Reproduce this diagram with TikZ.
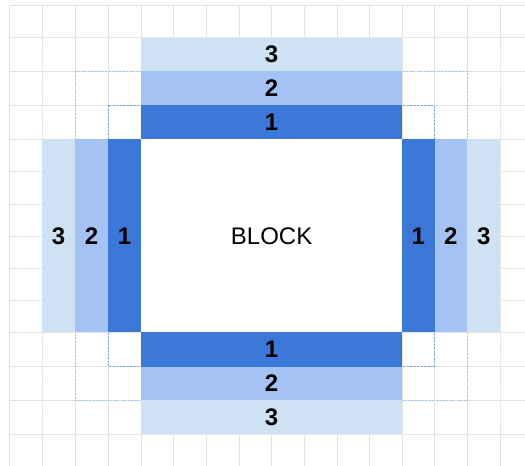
\documentclass[tikz,border=0pt]{standalone}
\usepackage{fontspec}
\setmainfont{Liberation Sans}
\definecolor{gridgray}{HTML}{E2E2E2}
\definecolor{blueA}{HTML}{3C78D8}
\definecolor{blueB}{HTML}{A4C2F4}
\definecolor{blueC}{HTML}{CFE2F3}
\begin{document}
\begin{tikzpicture}[x=1pt,y=-1pt,
  gridline/.style={draw=gridgray,line width=0.9pt},
  barA/.style={fill=blueA},
  barB/.style={fill=blueB},
  barC/.style={fill=blueC},
  outlineA/.style={draw=blueA!70,dashed,dash pattern=on 2pt off 1.5pt,line width=0.6pt},
  outlineB/.style={draw=blueB,dashed,dash pattern=on 2pt off 1.5pt,line width=0.6pt},
  outlineC/.style={draw=blueC!60,dashed,dash pattern=on 2pt off 1.5pt,line width=0.6pt},
  num/.style={inner sep=0pt,font=\bfseries\fontsize{24}{24}\selectfont},
  blocklabel/.style={inner sep=0pt,font=\fontsize{24}{24}\selectfont}
]
\useasboundingbox (0,0) rectangle (525,466);
\fill[white] (0,0) rectangle (525,466);
% grid
\foreach \x in {9,42,75,108,141,173.6,206.3,239,271.6,304.3,337,369.6,402,434.5,467.3,500}
  \draw[gridline] (\x,5) -- (\x,466);
\foreach \y in {5,37.5,71.3,105.3,139.3,171.7,204,236.7,268.3,300.7,332.3,366.7,400.3,434}
  \draw[gridline] (9,\y) -- (525,\y);
% block
\fill[white] (141,139.3) rectangle (402,332.3);
% level outlines
\draw[outlineC] (42,37.5) rectangle (500,434);
\draw[outlineB] (75,71.3) rectangle (467.3,400.3);
\draw[outlineA] (108,105.3) rectangle (434.5,366.7);
% level 3
\fill[barC] (141,37.5) rectangle (402,71.3);
\fill[barC] (141,400.3) rectangle (402,434);
\fill[barC] (42,139.3) rectangle (75,332.3);
\fill[barC] (467.3,139.3) rectangle (500,332.3);
% level 2
\fill[barB] (141,71.3) rectangle (402,105.3);
\fill[barB] (141,366.7) rectangle (402,400.3);
\fill[barB] (75,139.3) rectangle (108,332.3);
\fill[barB] (434.5,139.3) rectangle (467.3,332.3);
% level 1
\fill[barA] (141,105.3) rectangle (402,139.3);
\fill[barA] (141,332.3) rectangle (402,366.7);
\fill[barA] (108,139.3) rectangle (141,332.3);
\fill[barA] (402,139.3) rectangle (434.5,332.3);
% labels
\node[blocklabel] (block) at (271.6,236.5) {BLOCK};
\node[num] (t3) at (271.6,54.4) {3};
\node[num] (t2) at (271.6,88.3) {2};
\node[num] (t1) at (271.6,122.3) {1};
\node[num] (b1) at (271.6,349.5) {1};
\node[num] (b2) at (271.6,383.5) {2};
\node[num] (b3) at (271.6,417.2) {3};
\node[num] (l3) at (58.5,236.5) {3};
\node[num] (l2) at (91.5,236.5) {2};
\node[num] (l1) at (124.5,236.5) {1};
\node[num] (r1) at (418.3,236.5) {1};
\node[num] (r2) at (450.9,236.5) {2};
\node[num] (r3) at (483.7,236.5) {3};
\end{tikzpicture}
\end{document}
